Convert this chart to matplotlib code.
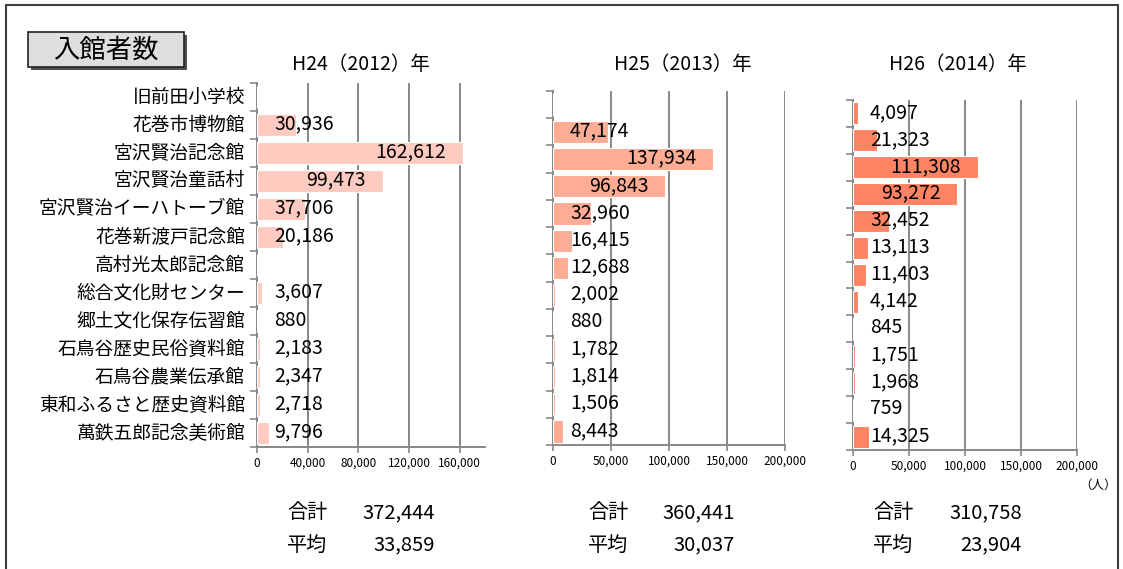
import matplotlib
matplotlib.use("Agg")
import matplotlib.pyplot as plt
from matplotlib.patches import Rectangle
from matplotlib.transforms import offset_copy

plt.rcParams['font.family'] = ['Noto Sans CJK JP', 'DejaVu Sans']

# data
facilities = ['旧前田小学校', '花巻市博物館', '宮沢賢治記念館', '宮沢賢治童話村',
              '宮沢賢治イーハトーブ館', '花巻新渡戸記念館', '高村光太郎記念館',
              '総合文化財センター', '郷土文化保存伝習館', '石鳥谷歴史民俗資料館',
              '石鳥谷農業伝承館', '東和ふるさと歴史資料館', '萬鉄五郎記念美術館']
years = ['H24（2012）年', 'H25（2013）年', 'H26（2014）年']
visitors_2012 = [None, 30936, 162612, 99473, 37706, 20186, None, 3607, 880, 2183, 2347, 2718, 9796]
visitors_2013 = [None, 47174, 137934, 96843, 32960, 16415, 12688, 2002, 880, 1782, 1814, 1506, 8443]
visitors_2014 = [4097, 21323, 111308, 93272, 32452, 13113, 11403, 4142, 845, 1751, 1968, 759, 14325]
bar_colors = ['#FFCBC1', '#FFAC95', '#FF8464']

W, H = 1123, 569
fig = plt.figure(figsize=(W / 100, H / 100), dpi=100)


def px_axes(left, top, right, bottom):
    return fig.add_axes([left / W, 1 - bottom / H, (right - left) / W, (bottom - top) / H])


# outer frame and title box
fig.patches.append(Rectangle((6 / W, -0.02), 1112 / W, 1 - 5 / H + 0.02, transform=fig.transFigure,
                             fill=False, edgecolor='#404040', linewidth=1.5))
fig.patches.append(Rectangle((31 / W, 1 - 70 / H), 156 / W, 35 / H, transform=fig.transFigure,
                             facecolor='#505050', edgecolor='none'))
fig.patches.append(Rectangle((28 / W, 1 - 67 / H), 156 / W, 35 / H, transform=fig.transFigure,
                             facecolor='#dedede', edgecolor='#222222', linewidth=1.2))
fig.text(106 / W, 1 - 50 / H, '入館者数', fontsize=19, ha='center', va='center')

panels = [
    (visitors_2012, (257, 83, 485, 447), 180000, [0, 40000, 80000, 120000, 160000], 361),
    (visitors_2013, (553, 91, 785, 445), 200000, [0, 50000, 100000, 150000, 200000], 683),
    (visitors_2014, (853, 100, 1077, 450), 200000, [0, 50000, 100000, 150000, 200000], 958),
]
total_x = [(287, 435), (588, 735), (873, 1022)]

renderer = fig.canvas.get_renderer()
n = len(facilities)
for i, (vals, box, xmax, ticks, title_x) in enumerate(panels):
    ax = px_axes(*box)
    ys = list(range(n))
    widths = [v if v is not None else 0 for v in vals]
    ax.barh(ys, widths, height=0.82, color=bar_colors[i], edgecolor='white', linewidth=0.8, zorder=3)
    ax.set_xlim(0, xmax)
    ax.set_ylim(n - 0.5, -0.5)
    ax.set_xticks(ticks)
    ax.set_xticklabels([f'{t:,}' for t in ticks], fontsize=8.5)
    ax.grid(axis='x', color='#888888', linewidth=1.4, zorder=0)
    for s in ['top', 'right']:
        ax.spines[s].set_visible(False)
    for s in ['left', 'bottom']:
        ax.spines[s].set_color('#888888')
        ax.spines[s].set_linewidth(1.4)
    ax.tick_params(axis='x', color='#888888', length=4, width=1.2, pad=3)
    ax.set_yticks([y + 0.5 for y in range(-1, n)])
    ax.set_yticklabels([])
    ax.tick_params(axis='y', color='#888888', length=5, width=1.2)
    if i == 0:
        for y, name in zip(ys, facilities):
            ax.text(0, y, name, fontsize=13.5, ha='right', va='center',
                    transform=offset_copy(ax.transData, fig, x=-12, y=0, units='dots'))
    fig.text(title_x / W, 1 - 64 / H, years[i], fontsize=14, ha='center', va='center')

    # value labels: left at 17px from axis, or right-aligned 17px inside bar end
    for y, v in zip(ys, vals):
        if v is None:
            continue
        lab = ax.text(0, y, f'{v:,}', fontsize=14, ha='left', va='center', zorder=5,
                      transform=offset_copy(ax.transData, fig, x=17, y=1, units='dots'))
        ext = lab.get_window_extent(renderer)
        bar_end = ax.transData.transform((v, y))[0]
        if bar_end - 17 > ext.x1:
            lab.remove()
            ax.text(v, y, f'{v:,}', fontsize=14, ha='right', va='center', zorder=5,
                    transform=offset_copy(ax.transData, fig, x=-17, y=1, units='dots'))

    # totals
    vs = [v for v in vals if v is not None]
    total = sum(vs)
    avg = int(total / len(vs) + 0.5)
    lx, rx = total_x[i]
    fig.text(lx / W, 1 - 513 / H, '合計', fontsize=14.5, ha='left', va='center')
    fig.text(rx / W, 1 - 513 / H, f'{total:,}', fontsize=14.5, ha='right', va='center')
    fig.text(lx / W, 1 - 545 / H, '平均', fontsize=14.5, ha='left', va='center')
    fig.text(rx / W, 1 - 545 / H, f'{avg:,}', fontsize=14.5, ha='right', va='center')

fig.text(1098 / W, 1 - 485 / H, '（人）', fontsize=9, ha='center', va='center')

fig.savefig('out.png', dpi=100)
